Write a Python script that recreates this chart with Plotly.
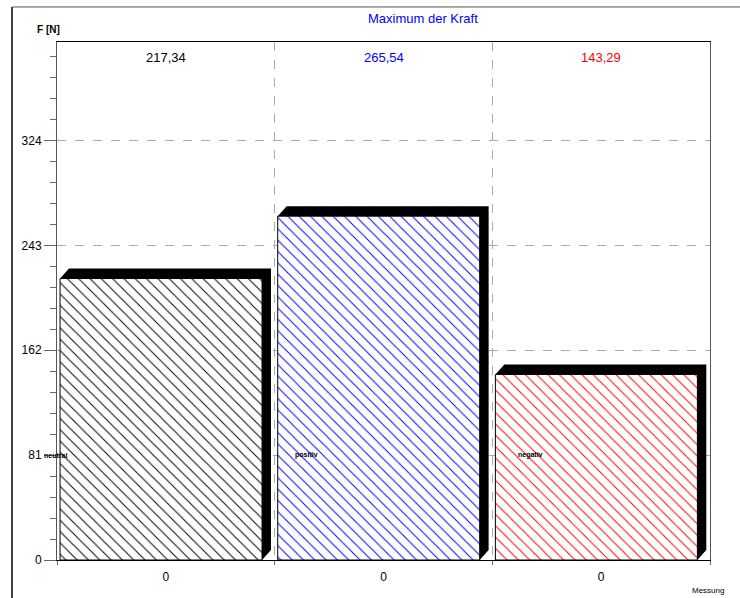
import plotly.graph_objects as go

# ---- data ----
categories = ["0", "0", "0"]
values = [217.34, 265.54, 143.29]
value_labels = ["217,34", "265,54", "143,29"]
series_names = ["neutral", "positiv", "negativ"]
colors = ["black", "blue", "red"]
y_ticks = [0, 81, 162, 243, 324]
y_max = 400
chart_title = "Maximum der Kraft"
y_title = "F [N]"
x_title = "Messung"

# ---- geometry (style) ----
bar_off = -0.486
bar_w = 0.928
dx = 0.041   # depth in x units
dy = 7.7     # depth in y units
FONT = "Liberation Sans, Arial, sans-serif"

xs = list(range(len(values)))
fig = go.Figure()

# 3D extrusion (black) built from values
for i, v in enumerate(values):
    L = i + bar_off
    R = L + bar_w
    px = [L, L + dx, R + dx, R + dx, R, R, L]
    py = [v, v + dy, v + dy, dy, 0, v, v]
    fig.add_trace(go.Scatter(x=px, y=py, mode="lines", fill="toself",
                             fillcolor="black", line=dict(width=0, color="black"),
                             hoverinfo="skip", showlegend=False))

fig.add_trace(go.Bar(
    x=xs, y=values, width=bar_w, offset=bar_off,
    marker=dict(color="white", line=dict(color="black", width=1),
                pattern=dict(shape="\\", fgcolor=colors, bgcolor="white",
                             fillmode="replace", size=8, solidity=0.12)),
    showlegend=False, hoverinfo="skip"))

ann = []
for i in xs:
    ann.append(dict(x=i, y=0.971, xref="x", yref="paper", text=value_labels[i],
                    showarrow=False, font=dict(family=FONT, size=13, color=colors[i]),
                    xanchor="center", yanchor="middle"))
shifts = [-18, 15, 21]
for i in xs:
    ann.append(dict(x=i + bar_off, y=y_ticks[1], xref="x", yref="y", text="<b>" + series_names[i] + "</b>",
                    showarrow=False, font=dict(family=FONT, size=7, color="black"),
                    xanchor="left", yanchor="middle", xshift=shifts[i]))
ann.append(dict(x=0.56, y=1.0, xref="paper", yref="paper", yshift=24, text=chart_title,
                showarrow=False, font=dict(family=FONT, size=13, color="blue"),
                xanchor="center", yanchor="middle"))
ann.append(dict(x=0.008, y=1.0, xref="paper", yref="paper", yshift=13, text="<b>" + y_title + "</b>",
                showarrow=False, font=dict(family=FONT, size=10, color="black"),
                xanchor="right", yanchor="middle"))
ann.append(dict(x=0.969, y=-0.058, xref="paper", yref="paper", text=x_title,
                showarrow=False, font=dict(family=FONT, size=8, color="black"),
                xanchor="left", yanchor="middle"))

fig.update_layout(
    width=740, height=598,
    margin=dict(l=57, r=30, t=42, b=38),
    paper_bgcolor="white", plot_bgcolor="white",
    font=dict(family=FONT, size=12, color="black"),
    annotations=ann,
    shapes=[
        dict(type="line", xref="paper", yref="paper", x0=-0.0689, x1=-0.0689, y0=-0.1, y1=1.0676,
             line=dict(color="black", width=1.5)),
        dict(type="line", xref="paper", yref="paper", x0=-0.0689, x1=1.1, y0=1.0676, y1=1.0676,
             line=dict(color="#555", width=1)),
    ],
    xaxis=dict(range=[-0.5, 2.5], tickvals=xs, ticktext=categories, ticks="",
               showgrid=False, zeroline=False, showline=True, linecolor="black", linewidth=1,
               mirror=True, tickfont=dict(size=12), ticklabelstandoff=6,
               minor=dict(tick0=-0.5, dtick=1, ticks="outside", ticklen=4, tickcolor="#666",
                          showgrid=True, gridcolor="#aaa", griddash="dash", gridwidth=1)),
    yaxis=dict(range=[0, y_max], tickvals=y_ticks, ticks="outside", ticklen=12, tickcolor="#666",
               showgrid=True, gridcolor="#aaa", griddash="dash", gridwidth=1,
               zeroline=False, showline=True, linecolor="#555", linewidth=1, mirror=True,
               tickfont=dict(size=12),
               minor=dict(tick0=0, dtick=16.2, ticks="outside", ticklen=6, tickcolor="#666",
                          showgrid=False)),
)

fig.write_html("out.html", config={"displayModeBar": False},
               post_script="document.body.style.margin='0px';document.body.style.overflow='hidden';")
